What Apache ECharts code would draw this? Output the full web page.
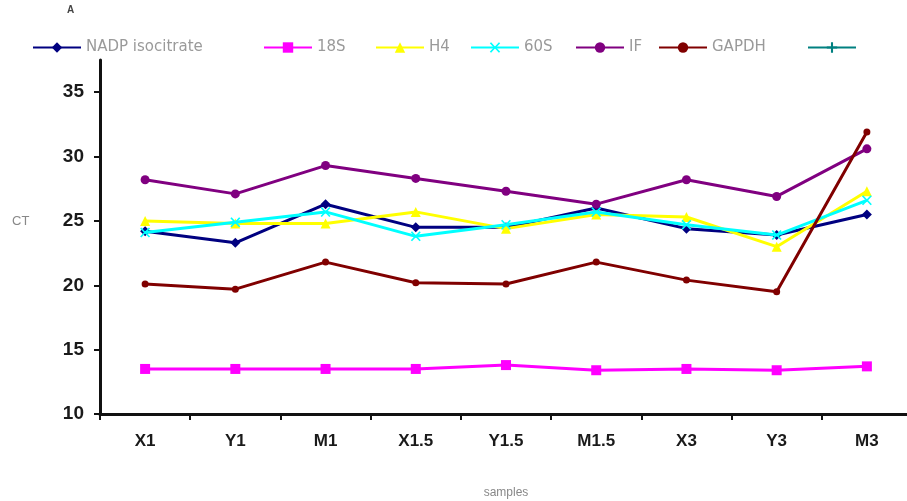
<!DOCTYPE html>
<html>
<head>
<meta charset="utf-8">
<script src="https://cdn.jsdelivr.net/npm/echarts@6/dist/echarts.min.js"></script>
<style>html,body{margin:0;padding:0;background:#fff;}#c{width:907px;height:501px;}</style>
</head>
<body>
<div id="c"></div>
<script>
const categories = ['X1','Y1','M1','X1.5','Y1.5','M1.5','X3','Y3','M3'];
const seriesNames = ['NADP isocitrate','18S','H4','60S','IF','GAPDH','\u200b'];
const nadp  = [24.2, 23.3, 26.3, 24.5, 24.5, 26.0, 24.4, 23.9, 25.5];
const s18   = [13.5, 13.5, 13.5, 13.5, 13.8, 13.4, 13.5, 13.4, 13.7];
const h4    = [25.0, 24.8, 24.8, 25.7, 24.4, 25.5, 25.3, 23.0, 27.3];
const s60   = [24.1, 24.9, 25.7, 23.8, 24.7, 25.7, 24.7, 23.9, 26.6];
const ifv   = [28.2, 27.1, 29.3, 28.3, 27.3, 26.3, 28.2, 26.9, 30.6];
const gapdh = [20.1, 19.7, 21.8, 20.2, 20.1, 21.8, 20.4, 19.5, 31.9];
const teal  = [null, null, null, null, null, null, null, null, null];
const yTicks = [10, 15, 20, 25, 30, 35];

const values = [nadp, s18, h4, s60, ifv, gapdh, teal];
const colors = ['#000080','#FF00FF','#FFFF00','#00FFFF','#800080','#800000','#008080'];
const symbols = ['diamond','rect','triangle','path://M0,4 L3,0 L4,1 L1,5 L4,9 L3,10 L0,6 L-3,10 L-4,9 L-1,5 L-4,1 L-3,0 Z','circle','circle','path://M-1,-5 L1,-5 L1,-1 L5,-1 L5,1 L1,1 L1,5 L-1,5 L-1,1 L-5,1 L-5,-1 L-1,-1 Z'];
const sizes = [10, 10, 10, 10, 9, 7, 9];
const legendLeft = [27, 258, 370, 465, 570, 653, 802];

const font = '"Liberation Sans Narrow","Liberation Sans",Arial,sans-serif';

const chart = echarts.init(document.getElementById('c'), null, {renderer:'canvas'});
chart.setOption({
  backgroundColor: '#fff',
  animation: false,
  legend: seriesNames.map((n, i) => ({
    data: [n], left: legendLeft[i], top: 35,
    itemWidth: 48, itemHeight: 13, itemGap: 6,
    textStyle: {color: '#9a9a9a', fontSize: 15, fontFamily: '"DejaVu Sans",sans-serif'}
  })),
  grid: {left: 100, top: 60, width: 812, height: 354, containLabel: false, outerBoundsMode: 'none'},
  xAxis: {
    type: 'category', data: categories, boundaryGap: true,
    name: 'samples', nameLocation: 'middle', nameGap: 73,
    nameTextStyle: {color: '#888', fontSize: 12, fontFamily: font},
    axisLine: {lineStyle: {color: '#111', width: 3}},
    axisTick: {show: true, inside: false, length: 6, alignWithLabel: false, lineStyle: {color:'#111', width: 2}},
    axisLabel: {color: '#1a1a1a', fontSize: 17, fontWeight: 'bold', fontFamily: font, margin: 19, interval: 0}
  },
  yAxis: {
    type: 'value', min: 10, max: 37.5, interval: 5,
    splitLine: {show: false},
    axisLine: {show: true, lineStyle: {color: '#111', width: 3}},
    axisTick: {show: true, length: 6, lineStyle: {color: '#111', width: 2}},
    axisLabel: {color: '#1a1a1a', fontSize: 19, fontWeight: 'bold', fontFamily: font, margin: 16,
      showMaxLabel: false,
      formatter: v => (yTicks.indexOf(v) >= 0 ? String(v) : '')}
  },
  graphic: [
    {type: 'text', left: 67, top: 5, style: {text: 'A', fill: '#444', font: 'bold 10px ' + font}},
    {type: 'text', left: 12, top: 215, style: {text: 'CT', fill: '#888', font: '13px ' + font}}
  ],
  series: seriesNames.map((n, i) => ({
    name: n, type: 'line', data: values[i],
    symbol: symbols[i], symbolSize: sizes[i], showSymbol: true,
    itemStyle: {color: colors[i]},
    lineStyle: {color: colors[i], width: 3},
    connectNulls: false, z: 2 + i
  }))
});
</script>
</body>
</html>
